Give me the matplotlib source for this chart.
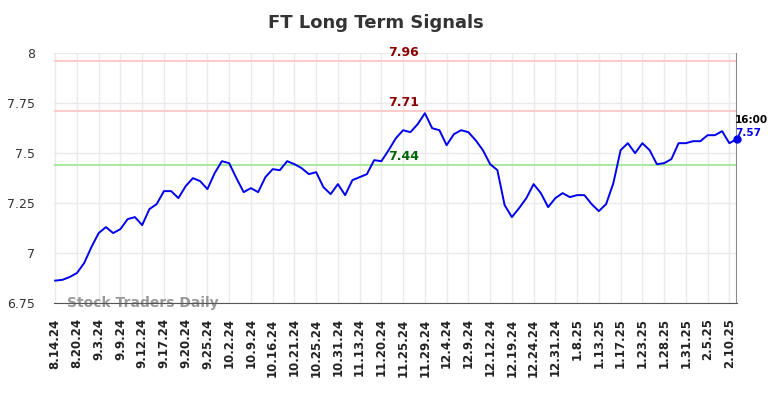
import numpy as np
import matplotlib
matplotlib.use("Agg")
from matplotlib import pyplot as plt


title = "FT Long Term Signals"

tick_labels = ['8.14.24', '8.20.24', '9.3.24', '9.9.24', '9.12.24', '9.17.24', '9.20.24',
               '9.25.24', '10.2.24', '10.9.24', '10.16.24', '10.21.24', '10.25.24',
               '10.31.24', '11.13.24', '11.20.24', '11.25.24', '11.29.24', '12.4.24',
               '12.9.24', '12.12.24', '12.19.24', '12.24.24', '12.31.24', '1.8.25',
               '1.13.25', '1.17.25', '1.23.25', '1.28.25', '1.31.25', '2.5.25', '2.10.25']

prices = [6.862, 6.866, 6.88, 6.90, 6.95, 7.03, 7.10, 7.13, 7.10, 7.12,
          7.17, 7.18, 7.14, 7.22, 7.245, 7.31, 7.31, 7.275, 7.335, 7.375,
          7.36, 7.32, 7.40, 7.46, 7.45, 7.375, 7.305, 7.325, 7.305, 7.38,
          7.42, 7.415, 7.46, 7.445, 7.425, 7.395, 7.405, 7.33, 7.295, 7.345,
          7.29, 7.365, 7.38, 7.395, 7.465, 7.46, 7.515, 7.575, 7.615, 7.605,
          7.645, 7.70, 7.625, 7.615, 7.54, 7.595, 7.615, 7.605, 7.565, 7.515,
          7.445, 7.415, 7.24, 7.18, 7.225, 7.275, 7.345, 7.30, 7.23, 7.275,
          7.30, 7.28, 7.29, 7.29, 7.245, 7.21, 7.245, 7.35, 7.515, 7.55,
          7.50, 7.55, 7.515, 7.445, 7.45, 7.47, 7.55, 7.55, 7.56, 7.56,
          7.59, 7.59, 7.61, 7.55, 7.57]

resistance_hi = 7.96
resistance_lo = 7.71
support = 7.44
last_time = "16:00"
last_value = 7.57

x = np.arange(len(prices))
tick_pos = x[::3][:len(tick_labels)]

fig = plt.figure(figsize=(7.84, 3.98), dpi=100)
ax = fig.add_axes([0.069, 0.2387, 0.871, 0.6274])

ax.axhline(resistance_hi, color='#ffcccc', lw=1.5, zorder=1)
ax.axhline(resistance_lo, color='#ffcccc', lw=1.5, zorder=1)
ax.axhline(support, color='#a8e8a0', lw=1.5, zorder=1)
ax.axvline(x[-1], color='#888888', lw=1.5, zorder=1)

ax.plot(x, prices, color='#0000ee', lw=1.4, zorder=3)
ax.plot(x[-1], prices[-1], 'o', color='#0000ee', ms=5, zorder=4, clip_on=False)

mid = 48
ax.text(mid, resistance_hi + 0.012, "%.2f" % resistance_hi, color='#8b0000',
        fontsize=9, fontweight='bold', ha='center', va='bottom')
ax.text(mid, resistance_lo + 0.012, "%.2f" % resistance_lo, color='#8b0000',
        fontsize=9, fontweight='bold', ha='center', va='bottom')
ax.text(mid, support + 0.012, "%.2f" % support, color='#006400',
        fontsize=9, fontweight='bold', ha='center', va='bottom')

ax.text(x[-1] - 0.2, last_value + 0.095, last_time, color='black',
        fontsize=7.5, fontweight='bold', ha='left', va='center')
ax.text(x[-1] - 0.2, last_value + 0.03, "%.2f" % last_value, color='#0000ee',
        fontsize=7.5, fontweight='bold', ha='left', va='center')

ax.text(1.6, 6.748, "Stock Traders Daily", color='#999999', fontsize=10,
        fontweight='bold', ha='left', va='center', zorder=2)

ax.set_xlim(-0.15, 94.05)
ax.set_ylim(6.75, 8.0)
ax.set_yticks([6.75, 7, 7.25, 7.5, 7.75, 8])
ax.set_yticklabels(['6.75', '7', '7.25', '7.5', '7.75', '8'])
ax.set_xticks(tick_pos)
ax.set_xticklabels(tick_labels, rotation=90, fontweight='bold', fontsize=8.5, color='#222222')
ax.tick_params(axis='y', labelsize=9, colors='#333333', length=0, pad=14)
ax.tick_params(axis='x', length=0, pad=11)
ax.grid(True, color='#eaeaea', lw=1)
ax.set_axisbelow(True)

for s in ['top', 'right', 'left']:
    ax.spines[s].set_visible(False)
ax.spines['bottom'].set_color('#555555')

fig.suptitle(title, fontsize=13, fontweight='bold', color='#333333', x=0.48, y=0.965)

fig.savefig('out.png', dpi=100)
